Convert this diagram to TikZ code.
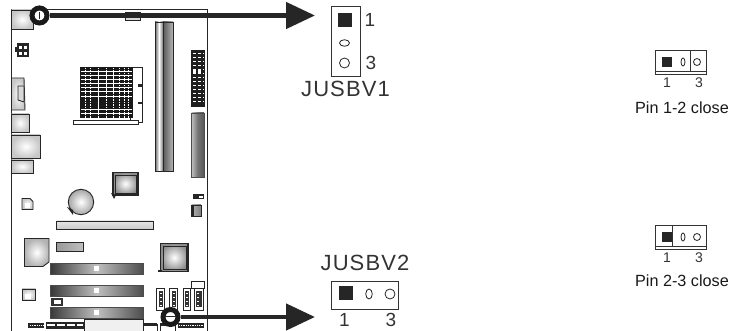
\documentclass[tikz,border=0pt]{standalone}
\usepackage{fontspec}
\setmainfont{Liberation Sans}
\usetikzlibrary{arrows.meta,shapes.geometric}
\newcommand{\fs}[1]{\fontsize{#1}{#1}\selectfont}
\tikzset{
  x=1pt,y=-1pt,
  part/.style={draw=black!85,line width=0.9pt},
  lite/.style={part,inner color=white,outer color=black!22},
  vbar/.style={part,draw=black!70,left color=black!25,right color=black!65,middle color=black!55},
  solid pin/.style={fill=black!85,draw=none,minimum width=#1,minimum height=#1,inner sep=0pt,rectangle},
  round pin/.style={draw=black!85,line width=0.8pt,fill=white,ellipse,inner sep=0pt},
  jbox/.style={draw=black!80,line width=0.9pt,fill=white,inner sep=0pt},
  marker/.style={circle,draw=black!90,line width=5pt,minimum size=15pt,inner sep=0pt},
  leader/.style={draw=black!85,line width=4.6pt,-{Triangle[length=29pt,width=26pt,fill=black!85]}},
  bigtext/.style={font=\fs{22},text=black!80,inner sep=0pt},
  numtext/.style={font=\fs{19},text=black!80,inner sep=0pt},
  smalltext/.style={font=\fs{14},text=black!80,inner sep=0pt},
  captext/.style={font=\fs{16.2},text=black!90,inner sep=0pt},
}
\begin{document}
\begin{tikzpicture}
\useasboundingbox (0,0) rectangle (729,331);
\fill[white] (0,0) rectangle (729,331);
% board
\draw[draw=black!85,line width=1pt] (11.5,331) -- (11.5,9.5) -- (207.5,9.5) -- (207.5,331);
% rear I/O
\shade[lite] (11.5,10) rectangle (33,29);
\shade[lite] (11.5,78) -- (24,78) -- (25,110) -- (11.5,110) -- cycle;
\draw[part,fill=black!15] (18,86) -- (24,86) -- (24,102) -- (18,100) -- cycle;
\shade[lite] (11.5,114) rectangle (29,132);
\shade[lite] (11.5,135) rectangle (40,158);
\shade[lite] (11.5,160) rectangle (33,173);
% small power header
\fill[black!85] (17,43) rectangle (29,57);
\fill[black!85] (15,47) rectangle (18,52);
\foreach \a/\b in {19/46,24/46,19/52,24/52}{\fill[white] (\a,\b) rectangle ++(3,3);}
% CPU socket
\draw[part,fill=white] (130,67) rectangle (142,122);
\fill[black!85] (138,84.5) rectangle (143,87);
\fill[black!85] (138,102) rectangle (143,104.5);
\fill[black!90] (80,67) rectangle (133,118.5);
\foreach \y in {71,75,79,83,87,91,96,109,113}{\draw[white,line width=0.7pt] (81,\y) -- (132,\y);}
\foreach \x in {85,90,98,106,113,119,124,128}{\draw[white,line width=0.7pt,densely dotted] (\x,68) -- (\x,118);}
\foreach \x in {98,106,113}{\draw[white,line width=0.8pt] (\x,72) -- (\x,90);}
\draw[white,line width=0.9pt] (98,92) -- (98,115);
\draw[part,fill=white] (73.5,120.5) rectangle (138,124);
% top small connector
\draw[part,fill=black!15] (125.5,12) rectangle (140,20);
% memory slots
\shade[part,left color=black!60,right color=black!55,middle color=white] (155,22) rectangle (163,171);
\shade[part,left color=black!65,right color=black!30] (163,22) rectangle (173,171);
% right headers
\fill[black!88] (191,50) rectangle (205,107);
\foreach \y in {53,57,61,65,69,73,77,81,85,89,93,97,101}{\draw[white,line width=0.8pt,dash pattern=on 3pt off 2pt] (193,\y) -- (204,\y);}
\fill[white] (193,70) rectangle (196,73);\fill[white] (198,70) rectangle (201,73);
\shade[vbar] (191.5,113) rectangle (204,177);
% north bridge
\shade[part,line width=1.3pt,inner color=white,outer color=black!45] (113,172.5) rectangle (138,195);
\draw[black!85,line width=0.8pt] (115,175) rectangle (136,193);
\fill[black!85] (111,193) -- (116,195) -- (114,199) -- cycle;
% capacitor
\shade[part,inner color=white,outer color=black!35] (81,202) circle[radius=12.7];
\fill[black!85] (67,207) -- (73,210) -- (73,215) -- cycle;
% small squares
\shade[lite] (22,198.5) -- (30,198.5) -- (33,201.5) -- (33,209.5) -- (22,209.5) -- cycle;
\fill[white] (25,203) rectangle (30,208);
\shade[lite] (22,289) rectangle (35.5,300);
\fill[white] (25,294) rectangle (31,299);
% PCI strip and chip
\shade[part,top color=black!10,bottom color=black!20] (56.5,221) rectangle (153,229);
\shade[part,inner color=white,outer color=black!30] (24.5,238.5) -- (49,238.5) -- (49,262) -- (43,266.5) -- (24.5,266.5) -- cycle;
\shade[part,left color=black!40,right color=black!25] (56.5,242.5) rectangle (83.5,251);
% expansion slots
\foreach \y in {263.5,285.5,307.5}{
  \shade[part,draw=black!70,left color=black!78,right color=black!70,middle color=black!25] (50,\y) rectangle (143.5,\y+11);
  \fill[white] (93.5,\y+2.5) rectangle (99,\y+7.5);
}
\fill[black!80] (51,298.5) rectangle (63,306);
\fill[white] (54,300) rectangle (61,304);
% bottom row
\fill[black!85] (28,323) rectangle (44,328);
\draw[white,line width=0.8pt,densely dotted] (30,325.5) -- (43,325.5);
\fill[black!85] (45.5,322) rectangle (84,329);
\draw[white,line width=2pt,dash pattern=on 8pt off 2pt] (47,325.5) -- (83,325.5);
\draw[part,fill=black!6] (84.5,319.5) rectangle (143,331);
\draw[part] (160,324) rectangle (175,331);
\fill[black!85] (178,323) rectangle (204,328);
\draw[white,line width=0.8pt,densely dotted] (179,325.5) -- (203,325.5);
\draw[part,fill=white] (143.5,324) rectangle (157,331);
\fill[black!85] (143.5,323) rectangle (157,326);
\fill[black!85] (160,323) rectangle (175,326);
% lower right parts
\fill[black!85] (193,194) rectangle (204,199.5);
\fill[white] (199,196) rectangle (203,198);
\shade[part,left color=black!30,right color=black!50] (191.5,205) rectangle (201,216);
\fill[black!85] (191,205) rectangle (194,216);
\shade[part,line width=1.3pt,inner color=white,outer color=black!45] (160.5,243.5) rectangle (188,271.5);
\draw[black!85,line width=0.8pt] (163,246) rectangle (186,269);
\fill[black!85] (158,270) rectangle (162,272);
\draw[part,fill=white] (191,281) rectangle (204,288);
\foreach \x/\w in {156.5/7.5,169.5/7.5,183/7.5,194/9.5}{
  \draw[part,fill=white] (\x,288.5) rectangle ++(\w,21.5);
  \fill[black!80] (\x+2,291) rectangle ++(\w-3.5,16);
  \foreach \k in {293,297,301,305}{\fill[white] (\x+3,\k) rectangle ++(2,1.5);}
}
% JUSBV1
\node[jbox,minimum width=29pt,minimum height=70pt] (j1box) at (345.5,41) {};
\node[solid pin=14pt] (j1a) at (345,20.5) {};
\node[round pin,minimum width=10pt,minimum height=6.5pt] (j1b) at (344.5,43) {};
\node[round pin,minimum width=10pt,minimum height=10pt] (j1c) at (344.5,63) {};
\node[numtext] (j1n1) at (370,20) {1};
\node[numtext] (j1n3) at (371,63) {3};
\node[bigtext] (j1t) at (345.5,88.5) {\addfontfeature{LetterSpace=5}JUSBV1};
% JUSBV2
\node[jbox,minimum width=67pt,minimum height=28pt] (j2box) at (364.5,295) {};
\node[solid pin=14pt] (j2a) at (345.5,293.5) {};
\node[round pin,minimum width=6.5pt,minimum height=10pt] (j2b) at (369,294) {};
\node[round pin,minimum width=10pt,minimum height=10pt] (j2c) at (390,294) {};
\node[numtext] (j2n1) at (344.5,320) {1};
\node[numtext] (j2n3) at (391,320) {3};
\node[bigtext] (j2t) at (365,263) {\addfontfeature{LetterSpace=5}JUSBV2};
% markers and leaders
\node[marker] (m1) at (39.5,15.5) {};
\draw[black!85,line width=0.8pt] (39.5,12) -- (39.5,19);
\node[marker] (m2) at (170.5,317) {};
\draw[black!85,line width=0.8pt] (165,316) -- (176,316);
\coordinate (t1) at (315,15.5);
\coordinate (t2) at (315,317);
\draw[leader] (m1) -- (t1);
\draw[leader] (m2) -- (t2);
% Pin 1-2
\node[jbox,minimum width=51pt,minimum height=24pt] (p1box) at (680.5,62) {};
\draw[black!80,line width=0.9pt] (p1box.south west) ++(0,-3) -- ++(51,0);
\node[jbox,minimum width=35pt,minimum height=21pt] (p1in) at (672.5,60.5) {};
\node[solid pin=10pt] (p1a) at (667,62) {};
\node[round pin,minimum width=4pt,minimum height=8pt] (p1b) at (683,62) {};
\node[round pin,minimum width=7pt,minimum height=7pt] (p1c) at (697,62) {};
\node[smalltext] (p1n1) at (667,83) {1};
\node[smalltext] (p1n3) at (699,83) {3};
\node[captext] (p1t) at (682,108) {Pin 1-2 close};
% Pin 2-3
\node[jbox,minimum width=51pt,minimum height=24pt] (p2box) at (680.5,237) {};
\draw[black!80,line width=0.9pt] (p2box.south west) ++(0,-3) -- ++(51,0);
\node[jbox,minimum width=34pt,minimum height=21pt] (p2in) at (689,235.5) {};
\node[solid pin=10pt] (p2a) at (667,237) {};
\node[round pin,minimum width=4pt,minimum height=8pt] (p2b) at (683,237) {};
\node[round pin,minimum width=7pt,minimum height=7pt] (p2c) at (697,237) {};
\node[smalltext] (p2n1) at (667,258) {1};
\node[smalltext] (p2n3) at (699,258) {3};
\node[captext] (p2t) at (682,281) {Pin 2-3 close};
\end{tikzpicture}
\end{document}
